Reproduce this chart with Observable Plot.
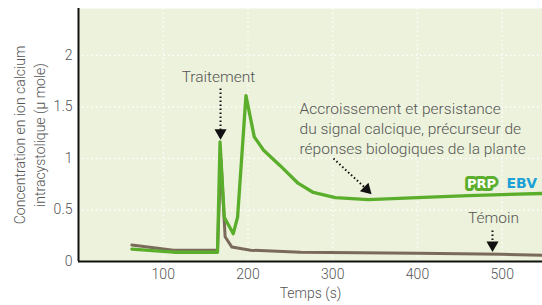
<!DOCTYPE html>
<html><head><meta charset="utf-8">
<script src="https://cdn.jsdelivr.net/npm/d3@7"></script>
<script src="https://cdn.jsdelivr.net/npm/@observablehq/plot@0.6"></script>
<style>
body{margin:0;background:#fff;}
svg{font-family:Roboto,"DejaVu Sans",sans-serif;}
</style></head><body><div id="chart"></div>
<script>
const traiteT = [63,112,164,167,172,182.6,187.7,197.6,207.4,218.4,238,259,277,303,342,400,460,547];
const traiteV = [0.12,0.09,0.09,1.16,0.43,0.27,0.43,1.61,1.21,1.08,0.93,0.76,0.67,0.62,0.60,0.62,0.64,0.66];
const temoinT = [63,112,164,168,173,181,203,262,400,500,547];
const temoinV = [0.16,0.11,0.11,1.0,0.24,0.14,0.11,0.09,0.08,0.07,0.06];
const xTicks = [100,200,300,400,500];
const yTicks = [0,0.5,1,1.5,2];
const centerLabels = [
  {t:165.2, v:1.79, text:"Traitement"},
  {t:489.7, v:0.42, text:"Témoin"}
];
const noteLabel = [{t:260.8, v:1.30, text:"Accroissement et persistance\ndu signal calcique, précurseur de\nréponses biologiques de la plante"}];
const arrows = [
  {t1:167.6, v1:1.68, t2:167.6, v2:1.25, rot:180},
  {t1:300.9, v1:1.0, t2:340, v2:0.70, rot:135},
  {t1:488.5, v1:0.30, t2:488.5, v2:0.16, rot:180}
];
const traite = traiteT.map((t,i)=>({t, v:traiteV[i]}));
const temoin = temoinT.map((t,i)=>({t, v:temoinV[i]}));

const chart = Plot.plot({
  width:542, height:305,
  marginLeft:78, marginRight:0, marginTop:8, marginBottom:44,
  style:{fontSize:"14px", color:"#555", fontFamily:"Roboto", fontWeight:300},
  x:{domain:[0,547.5], ticks:xTicks, tickSize:0, tickPadding:8, label:null},
  y:{domain:[0,2.456], ticks:yTicks, tickSize:0, tickPadding:6, label:null, tickFormat:d=>String(d)},
  marks:[
    Plot.frame({fill:"#ECF2DB", stroke:"none"}),
    Plot.gridX(xTicks, {stroke:"#fff", strokeOpacity:1, strokeDasharray:"1.5,3", strokeWidth:1.3}),
    Plot.gridY(yTicks.slice(1), {stroke:"#fff", strokeOpacity:1, strokeDasharray:"1.5,3", strokeWidth:1.3}),
    Plot.line(temoin, {x:"t", y:"v", stroke:"#7A6A5A", strokeWidth:3}),
    Plot.line(traite, {x:"t", y:"v", stroke:"#5BAE2C", strokeWidth:3.3}),
    Plot.ruleX([0], {stroke:"#111", strokeWidth:2}),
    Plot.ruleY([0], {stroke:"#111", strokeWidth:2}),
    Plot.link(arrows, {x1:"t1", y1:"v1", x2:"t2", y2:"v2", stroke:"#111", strokeWidth:2, strokeDasharray:"1.5,2.5"}),
    Plot.dot(arrows, {x:"t2", y:"v2", symbol:"triangle", fill:"#111", stroke:"none", r:4.5, rotate:"rot"}),
    Plot.text(centerLabels, {x:"t", y:"v", text:"text", textAnchor:"middle", fill:"#555", fontSize:15.5, fontWeight:300}),
    Plot.text(noteLabel, {x:"t", y:"v", text:"text", textAnchor:"start", lineAnchor:"middle", lineHeight:1.29, fill:"#555", fontSize:15.5, fontWeight:300}),
    Plot.text(["PRP"], {x:[475.5], y:[0.757], text:d=>d, fill:"#fff", stroke:"#5BAE2C", strokeWidth:6, fontWeight:"bold", fontSize:13, fontFamily:"DejaVu Sans", letterSpacing:"1px"}),
    Plot.text(["EBV"], {x:[523], y:[0.757], text:d=>d, fill:"#1BA0D8", fontWeight:"bold", fontSize:14, fontFamily:"DejaVu Sans"}),
    Plot.text(["Concentration en ion calcium\nintracystolique (µ mole)"], {frameAnchor:"left", dx:-50, rotate:-90, text:d=>d, fill:"#555", fontSize:14, lineHeight:1.43, textAnchor:"middle", fontWeight:300}),
    Plot.text(["Temps (s)"], {frameAnchor:"bottom", dy:36, text:d=>d, fill:"#555", fontSize:14, textAnchor:"middle", fontWeight:300})
  ]
});
document.getElementById("chart").appendChild(chart);
</script></body></html>
